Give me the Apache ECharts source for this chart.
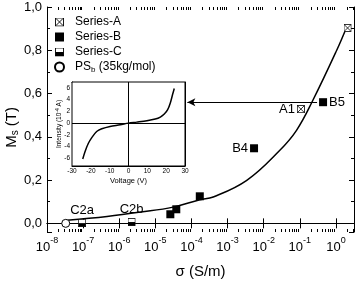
<!DOCTYPE html>
<html>
<head>
<meta charset="utf-8">
<script src="https://cdn.jsdelivr.net/npm/echarts@6/dist/echarts.min.js"></script>
<style>
  html, body { margin: 0; padding: 0; background: #fff; }
  #chart { width: 355px; height: 281px; }
</style>
</head>
<body>
<div id="chart"></div>
<script>
// measured points (sigma in S/m, Ms in T)
var seriesASigma = [0.107, 2.1];
var seriesAM = [0.528, 0.903];
var seriesANames = ['A1', ''];

var seriesBSigma = [2.6e-5, 3.8e-5, 1.7e-4, 5.4e-3, 0.44];
var seriesBM = [0.042, 0.065, 0.125, 0.347, 0.56];
var seriesBNames = ['', '', '', 'B4', 'B5'];

var seriesCSigma = [9.4e-8, 2.2e-6];
var seriesCM = [0.001, 0.006];
var seriesCNames = ['C2a', 'C2b'];

var psSigma = [3.3e-8];
var psM = [0.0];

// fitted curve
var fitSigma = [3.6e-8, 4.6e-7, 3.9e-6, 3.1e-5, 1.7e-4, 4e-4, 3.4e-3, 0.028, 0.081, 0.23, 1.05, 2.0];
var fitM = [0.014, 0.032, 0.052, 0.075, 0.109, 0.122, 0.199, 0.338, 0.43, 0.569, 0.80, 0.909];

// inset I-V curve
var ivVoltage = [-24.3, -23.1, -21.3, -19.5, -16.9, -14.2, -9.8, -4.4, 0, 4.4, 9.8, 14.2, 16.9, 19.0, 20.8, 22.2, 23.4, 24.3];
var ivCurrent = [-6.11, -4.86, -3.43, -2.46, -1.43, -0.97, -0.57, -0.29, 0, 0.17, 0.40, 0.69, 1.03, 1.54, 2.29, 3.43, 4.86, 5.89];

// arrow from B5 to the inset
var arrowM = 0.56;
var arrowFrom = 0.30;
var arrowTo = 7.7e-5;

var xMin = 1e-8;
var xMax = Math.pow(10, 0.5);
var yMin = -0.04;
var yMax = 1.0;

var font = 'Liberation Sans, Arial, sans-serif';
var labelPos = { 'A1': 'left', 'B4': 'left', 'B5': 'right', 'C2a': 'top', 'C2b': 'top' };

function svgSymbol(body) {
	var svg = "<svg xmlns='http://www.w3.org/2000/svg' width='10' height='10'>" + body + "</svg>";
	return 'image://data:image/svg+xml;charset=utf-8,' + encodeURIComponent(svg);
}
var symCross = svgSymbol("<rect x='0.5' y='0.5' width='9' height='9' fill='white' stroke='black'/><path d='M1 1L9 9M9 1L1 9' stroke='black' stroke-width='1'/>");
var symHalf = svgSymbol("<rect x='0.5' y='0.5' width='9' height='9' fill='white' stroke='black'/><rect x='0.5' y='5' width='9' height='4.5' fill='black'/>");

function pairs(xs, ys, names) {
	return xs.map(function (x, i) {
		var item = { value: [x, ys[i]] };
		if (names && names[i]) {
			item.label = {
				show: true,
				formatter: names[i],
				position: labelPos[names[i]],
				distance: 2,
				fontSize: 13,
				fontFamily: font,
				color: '#000'
			};
		}
		return item;
	});
}

// log minor tick positions
var minorTicks = [];
for (var e = -8; e <= 0; e++) {
	for (var k = 2; k <= 9; k++) {
		var v = k * Math.pow(10, e);
		if (v < xMax) minorTicks.push([v, 0]);
	}
}

var chartDom = document.getElementById('chart');
var myChart = echarts.init(chartDom, null, { renderer: 'canvas', devicePixelRatio: 1 });

var tickStyle = { color: '#000', width: 1 };
var option = {
	animation: false,
	backgroundColor: '#fff',
	textStyle: { fontFamily: font, color: '#000' },
	grid: [
		{ left: 47, top: 7, right: 1, bottom: 49, outerBoundsMode: 'none' },
		{ left: 72, top: 82, width: 113, height: 84, show: true, backgroundColor: '#fff', borderColor: '#000', borderWidth: 1, outerBoundsMode: 'none', z: 5 }
	],
	graphic: [
		{
			type: 'text',
			left: 4, top: 107,
			rotation: Math.PI / 2,
			style: {
				text: 'M{sub|s} (T)',
				fontSize: 15, fontFamily: font, fill: '#000',
				rich: { sub: { fontSize: 10, fontFamily: font, verticalAlign: 'bottom', padding: [8, 0, 0, 0] } }
			}
		}
	],
	legend: {
		data: ['Series-A', 'Series-B', 'Series-C', 'PSb'],
		orient: 'vertical',
		left: 49,
		top: 11,
		itemWidth: 9,
		itemHeight: 9,
		itemGap: 3,
		formatter: function (name) {
			return name === 'PSb' ? 'PS{sub|b} (35kg/mol)' : name;
		},
		textStyle: {
			fontSize: 12,
			fontFamily: font,
			color: '#000',
			padding: [0, 0, 0, 6],
			rich: { sub: { fontSize: 8, verticalAlign: 'bottom', padding: [6, 0, 0, 0] } }
		}
	},
	xAxis: [
		{
			type: 'log', logBase: 10, gridIndex: 0, min: xMin, max: xMax, interval: 1,
			name: 'σ (S/m)', nameLocation: 'middle', nameGap: 32,
			nameTextStyle: { fontSize: 15, fontFamily: font, color: '#000' },
			axisLine: { lineStyle: tickStyle },
			axisTick: { inside: true, length: 5, lineStyle: tickStyle },
			minorTick: { show: false },
			splitLine: { show: false },
			axisLabel: {
				showMaxLabel: false,
				margin: 4,
				color: '#000',
				formatter: function (v) {
					return '{b|10}{sup|' + Math.round(Math.log10(v)) + '}';
				},
				rich: {
					b: { fontSize: 13, fontFamily: font, lineHeight: 18, verticalAlign: 'bottom' },
					sup: { fontSize: 9, fontFamily: font, lineHeight: 10, verticalAlign: 'top' }
				}
			}
		},
		{
			type: 'log', logBase: 10, gridIndex: 0, min: xMin, max: xMax, interval: 1, position: 'top',
			axisLine: { lineStyle: tickStyle },
			axisTick: { inside: true, length: 5, lineStyle: tickStyle },
			axisLabel: { show: false },
			splitLine: { show: false }
		},
		{
			type: 'value', gridIndex: 1, min: -30, max: 30, interval: 10,
			name: 'Voltage (V)', nameLocation: 'middle', nameGap: 11,
			nameTextStyle: { fontSize: 7.5, fontFamily: font, color: '#000' },
			axisLine: { onZero: false, lineStyle: tickStyle },
			axisTick: { inside: true, length: 3, lineStyle: tickStyle },
			minorTick: { show: true, splitNumber: 2, length: 2, lineStyle: tickStyle },
			splitLine: { show: false },
			axisLabel: { fontSize: 6.5, margin: 2, color: '#000' }
		},
		{
			type: 'value', gridIndex: 1, min: -30, max: 30, interval: 10, position: 'top',
			axisLine: { onZero: false, lineStyle: tickStyle },
			axisTick: { inside: true, length: 3, lineStyle: tickStyle },
			minorTick: { show: true, splitNumber: 2, length: 2, lineStyle: tickStyle },
			splitLine: { show: false },
			axisLabel: { show: false }
		}
	],
	yAxis: [
		{
			type: 'value', gridIndex: 0, min: yMin, max: yMax, splitNumber: 5,
			axisLine: { lineStyle: tickStyle },
			axisTick: { inside: true, length: 5, lineStyle: tickStyle },
			minorTick: { show: true, splitNumber: 2, length: 3, lineStyle: tickStyle },
			splitLine: { show: false },
			axisLabel: {
				showMinLabel: false, fontSize: 13, margin: 5, color: '#000',
				formatter: function (v) { return v.toFixed(1).replace('.', ','); }
			}
		},
		{
			type: 'value', gridIndex: 0, min: yMin, max: yMax, splitNumber: 5, position: 'right',
			axisLine: { lineStyle: tickStyle },
			axisTick: { inside: true, length: 5, lineStyle: tickStyle },
			minorTick: { show: true, splitNumber: 2, length: 3, lineStyle: tickStyle },
			splitLine: { show: false },
			axisLabel: { show: false }
		},
		{
			type: 'value', gridIndex: 1, min: -7.3, max: 7, splitNumber: 7,
			name: 'Intensity (10{sup|-4} A)', nameLocation: 'middle', nameGap: 8, nameMoveOverlap: false,
			nameTextStyle: {
				fontSize: 6.5, fontFamily: font, color: '#000',
				rich: { sup: { fontSize: 5, verticalAlign: 'top', padding: [0, 0, 4, 0] } }
			},
			axisLine: { onZero: false, lineStyle: tickStyle },
			axisTick: { inside: true, length: 3, lineStyle: tickStyle },
			minorTick: { show: true, splitNumber: 2, length: 2, lineStyle: tickStyle },
			splitLine: { show: false },
			axisLabel: { showMinLabel: false, showMaxLabel: false, fontSize: 6.5, margin: 2, color: '#000' }
		},
		{
			type: 'value', gridIndex: 1, min: -7.3, max: 7, splitNumber: 7, position: 'right',
			axisLine: { onZero: false, lineStyle: tickStyle },
			axisTick: { inside: true, length: 3, lineStyle: tickStyle },
			minorTick: { show: true, splitNumber: 2, length: 2, lineStyle: tickStyle },
			splitLine: { show: false },
			axisLabel: { show: false }
		}
	],
	series: [
		{
			name: 'minor',
			type: 'custom',
			xAxisIndex: 0, yAxisIndex: 0,
			silent: true,
			clip: false,
			data: minorTicks,
			renderItem: function (params, api) {
				var cs = params.coordSys;
				var x = Math.round(api.coord([api.value(0), 0])[0]) + 0.5;
				var yb = cs.y + cs.height;
				return {
					type: 'group',
					children: [
						{ type: 'line', shape: { x1: x, y1: yb, x2: x, y2: yb - 3 }, style: { stroke: '#000', lineWidth: 1 } },
						{ type: 'line', shape: { x1: x, y1: cs.y, x2: x, y2: cs.y + 3 }, style: { stroke: '#000', lineWidth: 1 } }
					]
				};
			}
		},
		{
			name: 'fit',
			type: 'line',
			xAxisIndex: 0, yAxisIndex: 0,
			data: fitSigma.map(function (s, i) { return [s, fitM[i]]; }),
			smooth: 0.4,
			showSymbol: false,
			lineStyle: { color: '#000', width: 1.5 },
			markLine: {
				silent: true,
				symbol: ['arrow', 'none'],
				symbolSize: [6, 8],
				lineStyle: { color: '#000', width: 1, type: 'solid' },
				label: { show: false },
				data: [[{ coord: [arrowTo, arrowM] }, { coord: [arrowFrom, arrowM] }]]
			}
		},
		{
			name: 'Series-A', type: 'scatter', xAxisIndex: 0, yAxisIndex: 0,
			symbol: symCross, symbolSize: 8, itemStyle: { opacity: 1 },
			data: pairs(seriesASigma, seriesAM, seriesANames), z: 4
		},
		{
			name: 'Series-B', type: 'scatter', xAxisIndex: 0, yAxisIndex: 0,
			symbol: 'rect', symbolSize: 8, itemStyle: { color: '#000', opacity: 1 },
			data: pairs(seriesBSigma, seriesBM, seriesBNames), z: 4
		},
		{
			name: 'Series-C', type: 'scatter', xAxisIndex: 0, yAxisIndex: 0,
			symbol: symHalf, symbolSize: 8, itemStyle: { opacity: 1 },
			data: pairs(seriesCSigma, seriesCM, seriesCNames), z: 4
		},
		{
			name: 'PSb', type: 'scatter', xAxisIndex: 0, yAxisIndex: 0,
			symbol: 'circle', symbolSize: 8,
			itemStyle: { color: '#fff', borderColor: '#000', borderWidth: 1, opacity: 1 },
			data: pairs(psSigma, psM, null), z: 4
		},
		{
			name: 'iv', type: 'line', xAxisIndex: 2, yAxisIndex: 2,
			data: ivVoltage.map(function (v, i) { return [v, ivCurrent[i]]; }),
			smooth: 0.3, showSymbol: false, z: 6,
			lineStyle: { color: '#000', width: 1.5 },
			markLine: {
				silent: true, symbol: ['none', 'none'],
				lineStyle: { color: '#000', width: 1, type: 'solid' },
				label: { show: false },
				data: [{ xAxis: 0 }, { yAxis: 0 }]
			}
		}
	]
};

option && myChart.setOption(option);
</script>
</body>
</html>
